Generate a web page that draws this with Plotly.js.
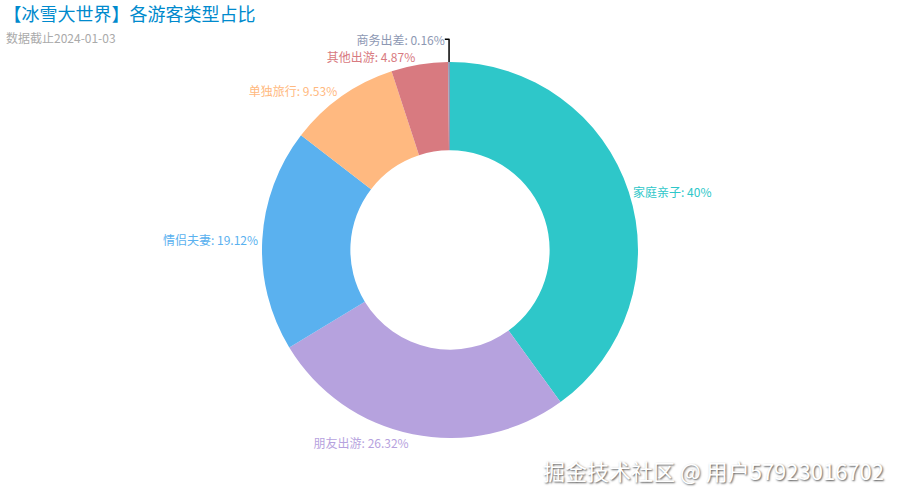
<html><head>
<meta charset="utf8"/>
<script src="https://cdn.plot.ly/plotly-3.0.1.min.js"></script>
<style>
* { margin: 0px; padding: 0px }
#chart { width: 900px; height: 500px }
</style>
</head><body>
<div id="chart"></div>
<script>
// 游客类型占比 (顺时针, 从 12 点开始)
var types = ['家庭亲子', '朋友出游', '情侣夫妻', '单独旅行', '其他出游', '商务出差'];
var shares = [40, 26.32, 19.12, 9.53, 4.87, 0.16];
var colors = ['#2ec7c9', '#b6a2de', '#5ab1ef', '#ffb980', '#d87a80', '#8d98b3'];

var font = '"Noto Sans CJK SC", "Noto Sans", sans-serif';

var trace = {
    type: 'pie',
    labels: types,
    values: shares,
    hole: 0.53,
    sort: false,
    direction: 'clockwise',
    rotation: 0,
    marker: {colors: colors, line: {width: 0}},
    textposition: 'outside',
    texttemplate: '%{label}: %{value}%',
    outsidetextfont: {family: font, size: 12, color: colors},
    automargin: false,
    showlegend: false,
    hoverinfo: 'label+value'
};

var layout = {
    width: 900,
    height: 500,
    margin: {l: 262, r: 262, t: 62, b: 62},
    paper_bgcolor: '#fff',
    font: {family: font},
    title: {
        text: '【冰雪大世界】各游客类型占比',
        x: 0.004, xanchor: 'left', xref: 'container',
        y: 0.97, yanchor: 'middle', yref: 'container',
        font: {family: font, size: 18, color: '#008acd'}
    },
    annotations: [
        {
            text: '数据截止2024-01-03',
            xref: 'paper', yref: 'paper', x: -0.686, y: 1.066,
            xanchor: 'left', yanchor: 'middle', showarrow: false,
            font: {family: font, size: 12, color: '#aaa'}
        },
        {
            text: '掘金技术社区 @ 用户57923016702',
            xref: 'paper', yref: 'paper', x: 1.66, y: -0.085,
            xanchor: 'right', yanchor: 'middle', showarrow: false,
            font: {family: font, size: 22, color: '#fff', shadow: '1px 1px 2px #555'}
        }
    ]
};

Plotly.newPlot('chart', [trace], layout, {displayModeBar: false});
</script>
</body></html>
